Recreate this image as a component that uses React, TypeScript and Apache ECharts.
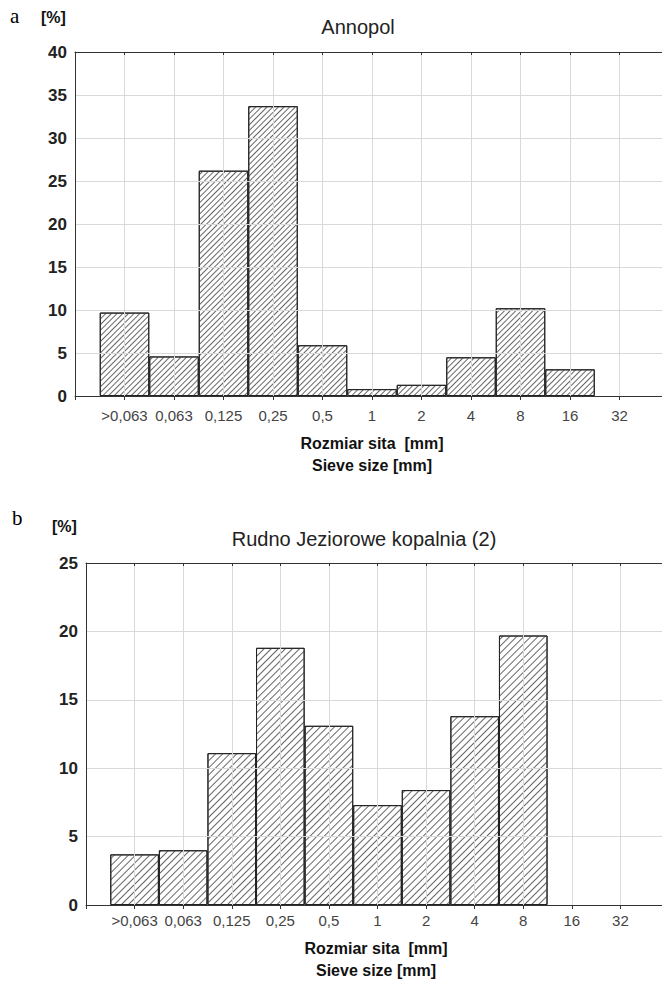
import React, { useEffect, useRef } from 'react';
import * as echarts from 'echarts';

const categories = ['', '>0,063', '0,063', '0,125', '0,25', '0,5', '1', '2', '4', '8', '16', '32', ''];
const annopolValues = [null, 9.7, 4.6, 26.2, 33.7, 5.9, 0.8, 1.3, 4.5, 10.2, 3.1, null, null];
const rudnoValues = [null, 3.7, 4.0, 11.1, 18.8, 13.1, 7.3, 8.4, 13.8, 19.7, null, null, null];
const titleTop = 'Annopol';
const titleBottom = 'Rudno Jeziorowe kopalnia (2)';
const xNamePl = 'Rozmiar sita  [mm]';
const xNameEn = 'Sieve size [mm]';
const yUnit = '[%]';

const SANS = '"Liberation Sans", Arial, sans-serif';
const SERIF = '"Liberation Serif", "Times New Roman", serif';

function makeAxes(gridIndex: number, max: number, labelMargin: number) {
  const xBottom = {
    type: 'category',
    gridIndex,
    data: categories,
    boundaryGap: false,
    axisLine: { show: true, lineStyle: { color: '#333', width: 1 } },
    axisTick: { show: true, length: 4, interval: 0, lineStyle: { color: '#333' } },
    axisLabel: { interval: 0, margin: labelMargin, fontSize: 15, color: '#444', fontFamily: SANS },
    splitLine: { show: true, interval: 0, lineStyle: { color: '#d9d9d9', width: 1 } },
    z: 3,
  };
  const xTop = {
    type: 'category',
    gridIndex,
    position: 'top',
    data: categories,
    boundaryGap: false,
    axisLine: { show: true, lineStyle: { color: '#333', width: 1 } },
    axisTick: { show: true, inside: true, length: 3, interval: 0, lineStyle: { color: '#333' } },
    axisLabel: { show: false },
    splitLine: { show: false },
    z: 3,
  };
  const y = {
    type: 'value',
    gridIndex,
    min: 0,
    max,
    interval: 5,
    axisLine: { show: true, lineStyle: { color: '#333', width: 1 } },
    axisTick: { show: false },
    axisLabel: { fontSize: 17, fontWeight: 'bold', color: '#222', margin: 8, fontFamily: SANS },
    splitLine: { show: true, lineStyle: { color: '#d9d9d9', width: 1 } },
    z: 3,
  };
  return { xBottom, xTop, y };
}

function hatch(gap: number) {
  return {
    symbol: 'rect',
    symbolSize: 1,
    dashArrayX: [1, 0],
    dashArrayY: [1, gap],
    rotation: -Math.PI / 4,
    color: '#666',
    backgroundColor: '#fff',
  };
}

export default function App() {
  const ref = useRef<HTMLDivElement>(null);
  useEffect(() => {
    const chart = echarts.init(ref.current!, null, { renderer: 'svg' });
    const a = makeAxes(0, 40, 12);
    const b = makeAxes(1, 25, 8);
    const option = {
      animation: false,
      backgroundColor: '#fff',
      textStyle: { fontFamily: SANS },
      grid: [
        { left: 75, top: 52, width: 594, height: 344 },
        { left: 86, top: 563, width: 583, height: 342 },
      ],
      xAxis: [a.xBottom, a.xTop, b.xBottom, b.xTop],
      yAxis: [a.y, b.y],
      series: [
        {
          type: 'bar',
          xAxisIndex: 0,
          yAxisIndex: 0,
          data: annopolValues,
          barWidth: '100%',
          itemStyle: { color: '#fff', borderColor: '#222', borderWidth: 1, decal: hatch(3) },
          z: 2,
        },
        {
          type: 'bar',
          xAxisIndex: 2,
          yAxisIndex: 1,
          data: rudnoValues,
          barWidth: '100%',
          itemStyle: { color: '#fff', borderColor: '#222', borderWidth: 1, decal: hatch(3.5) },
          z: 2,
        },
      ],
      graphic: [
        { type: 'text', left: 10, top: 5, style: { text: 'a', font: `21px ${SERIF}`, fill: '#000' } },
        { type: 'text', left: 41, top: 9, style: { text: yUnit, font: `bold 16px ${SANS}`, fill: '#111' } },
        { type: 'text', x: 358, y: 27, style: { text: titleTop, font: `20px ${SANS}`, fill: '#222', align: 'center', verticalAlign: 'middle' } },
        { type: 'text', x: 372, y: 443, style: { text: xNamePl, font: `bold 16px ${SANS}`, fill: '#111', align: 'center', verticalAlign: 'middle' } },
        { type: 'text', x: 372, y: 465, style: { text: xNameEn, font: `bold 16px ${SANS}`, fill: '#111', align: 'center', verticalAlign: 'middle' } },
        { type: 'text', left: 12, top: 507, style: { text: 'b', font: `21px ${SERIF}`, fill: '#000' } },
        { type: 'text', left: 52, top: 518, style: { text: yUnit, font: `bold 16px ${SANS}`, fill: '#111' } },
        { type: 'text', x: 364, y: 539, style: { text: titleBottom, font: `20px ${SANS}`, fill: '#222', align: 'center', verticalAlign: 'middle' } },
        { type: 'text', x: 376, y: 948, style: { text: xNamePl, font: `bold 16px ${SANS}`, fill: '#111', align: 'center', verticalAlign: 'middle' } },
        { type: 'text', x: 376, y: 970, style: { text: xNameEn, font: `bold 16px ${SANS}`, fill: '#111', align: 'center', verticalAlign: 'middle' } },
      ],
    };
    chart.setOption(option as any);
    return () => chart.dispose();
  }, []);
  return (
    <div style={{ position: 'absolute', left: 0, top: 0, width: 662, height: 982, overflow: 'hidden', background: '#fff' }}>
      <div ref={ref} style={{ width: 680, height: 982 }} />
    </div>
  );
}
